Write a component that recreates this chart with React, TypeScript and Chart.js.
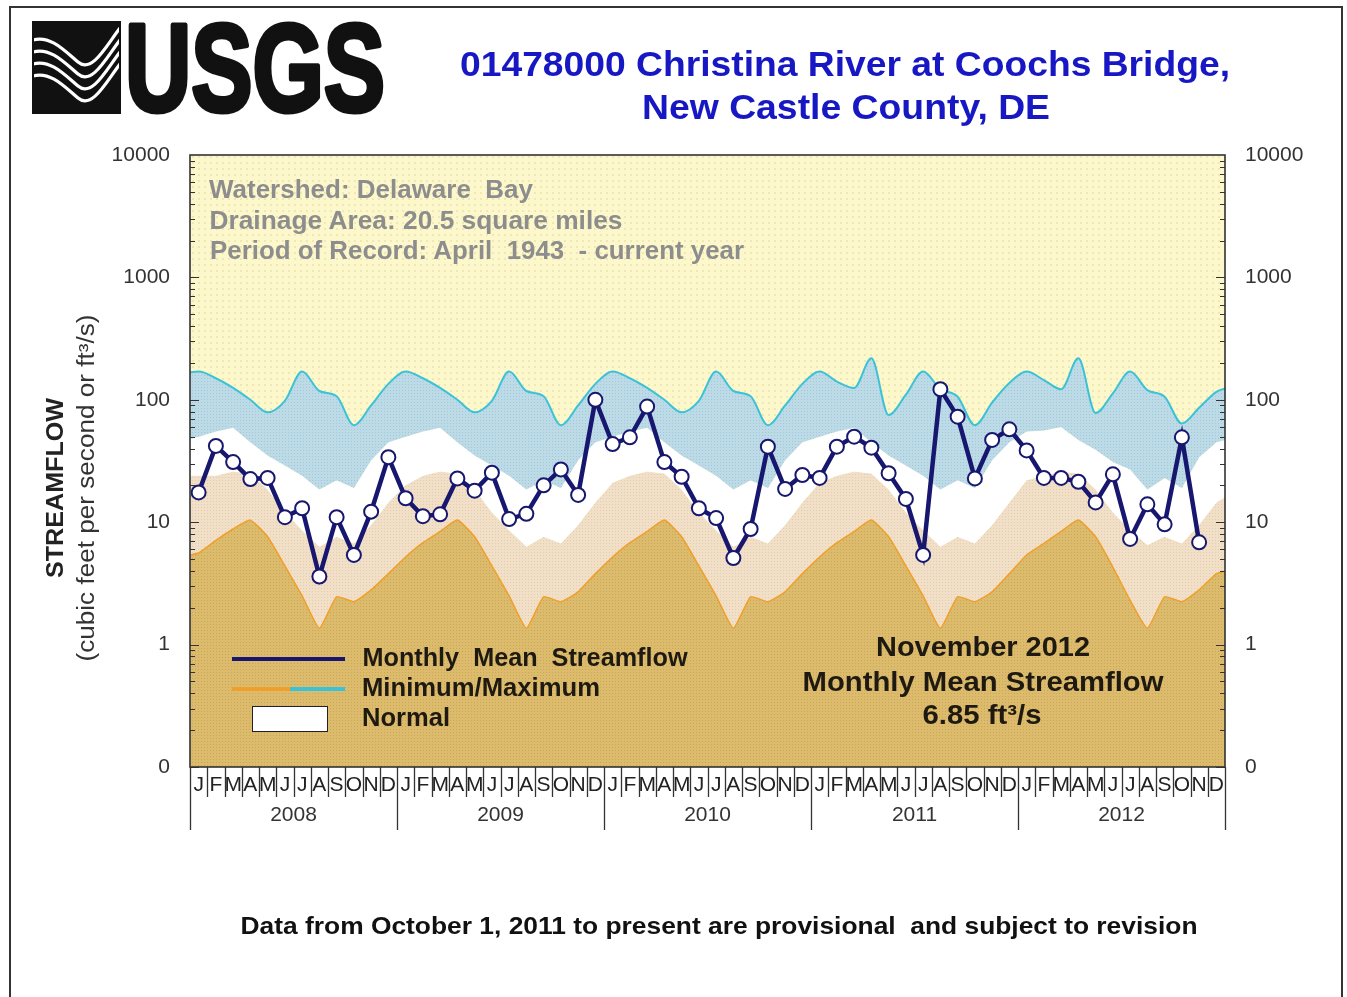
import React, { useEffect, useRef } from 'react';
import { Chart, registerables } from 'chart.js';

Chart.register(...registerables);

// ---------------- data ----------------
const monthLetters = ['J', 'F', 'M', 'A', 'M', 'J', 'J', 'A', 'S', 'O', 'N', 'D'];
const yearLabels = ['2008', '2009', '2010', '2011', '2012'];
const yTickValues = [0.1, 1, 10, 100, 1000, 10000];
const yTickLabels = ['0', '1', '10', '100', '1000', '10000'];

// Monthly mean streamflow, Jan 2008 .. Nov 2012 (ft3/s)
const meanFlow = [
  17.5, 42, 31, 22.5, 23, 11, 13, 3.6, 11, 5.4, 12.2, 34,
  15.7, 11.2, 11.6, 22.8, 18.1, 25.4, 10.6, 11.7, 20, 27, 16.7, 100,
  43.5, 49.4, 88, 31, 23.5, 13, 10.8, 5.1, 8.8, 41.4, 18.7, 24.3,
  23, 41.4, 50, 40.6, 25.1, 15.5, 5.4, 122, 72.8, 22.8, 47, 57.4,
  38.6, 23, 23, 21.4, 14.5, 24.6, 7.3, 14, 9.6, 49.4, 6.85,
];

// Maximum of record (month centres), with values at the left / right plot edges
const maxFlow = [
  170, 150, 125, 100, 79, 98, 170, 118, 107, 62, 90, 135,
  170, 150, 125, 100, 79, 98, 170, 118, 107, 62, 90, 135,
  170, 150, 125, 100, 79, 98, 170, 118, 107, 62, 90, 135,
  170, 141, 125, 218, 75, 110, 170, 122, 106, 62, 95, 137,
  170, 145, 122, 218, 78, 113, 170, 120, 106, 64, 86, 116,
];
const maxEdges = [168, 124];

// Upper bound of the normal range
const normalHigh = [
  50, 55, 59, 45, 35, 29, 24, 18.5, 22, 19, 32, 45,
  50, 55, 59, 45, 35, 29, 24, 18.5, 22, 19, 32, 45,
  50, 55, 59, 45, 35, 29, 24, 18.5, 22, 19, 32, 45,
  50, 55, 59, 45, 35, 29, 24, 18.5, 22, 19, 32, 45,
  55, 56, 60, 47, 39, 31, 27, 18.5, 23, 19, 34, 45,
];
const normalHighEdges = [48, 47];

// Lower bound of the normal range
const normalLow = [
  24, 24, 26, 25, 18.5, 12, 8.6, 6.3, 7.6, 6.7, 9.5, 14.5,
  20, 24, 26, 25, 18.5, 12, 8.6, 6.3, 7.6, 6.7, 9.5, 14.5,
  21, 24, 26, 25, 18.5, 12, 8.6, 6.3, 7.6, 6.7, 9.5, 14.5,
  21, 24, 26, 25, 18.5, 12, 8.6, 6.3, 7.6, 6.7, 9.5, 14.5,
  22, 24, 26, 25, 18.5, 12, 8.6, 6.5, 7.6, 6.7, 9.5, 14.5,
];
const normalLowEdges = [24, 16];

// Minimum of record
const minFlow = [
  5.6, 7.1, 8.8, 10.4, 7.6, 4.4, 2.5, 1.36, 2.46, 2.24, 2.8, 3.8,
  5.2, 6.8, 8.4, 10.4, 7.6, 4.4, 2.5, 1.36, 2.46, 2.24, 2.7, 3.8,
  5.2, 6.8, 8.4, 10.4, 7.6, 4.4, 2.5, 1.36, 2.46, 2.24, 2.7, 3.8,
  5.2, 6.8, 8.4, 10.4, 7.6, 4.4, 2.5, 1.36, 2.46, 2.24, 2.7, 3.8,
  5.4, 6.7, 8.4, 10.4, 7.6, 4.3, 2.3, 1.36, 2.46, 2.24, 2.8, 3.8,
];
const minEdges = [5.4, 4.0];

// ---------------- styling constants ----------------
const W = 1347;
const H = 997;
const NAVY = '#17176f';
const CYAN = '#3cc2d6';
const ORANGE = '#f0a02a';
const FAMILY = '"Liberation Sans", Arial, Helvetica, sans-serif';

let measureCtx: CanvasRenderingContext2D | null = null;
function textWidth(font: string, text: string): number {
  if (!measureCtx) measureCtx = document.createElement('canvas').getContext('2d');
  measureCtx!.font = font;
  return measureCtx!.measureText(text).width;
}

function FitText(props: {
  text: string; cx: number; cy: number; size: number; width: number;
  color: string; bold?: boolean; rotate?: boolean;
}) {
  const { text, cx, cy, size, width, color, bold = true, rotate = false } = props;
  const font = `${bold ? 'bold ' : ''}${size}px ${FAMILY}`;
  const k = width / textWidth(font, text);
  return (
    <div
      style={{
        position: 'absolute', left: cx, top: cy, font, lineHeight: `${size}px`,
        color, whiteSpace: 'pre',
        transform: `translate(-50%,-50%)${rotate ? ' rotate(-90deg)' : ''} scaleX(${k})`,
      }}
    >
      {text}
    </div>
  );
}

function makePattern(base: string, dot: string, size: number, dotSize: number) {
  const c = document.createElement('canvas');
  c.width = size; c.height = size;
  const g = c.getContext('2d')!;
  g.fillStyle = base; g.fillRect(0, 0, size, size);
  g.fillStyle = dot; g.fillRect(0, 0, dotSize, dotSize);
  return g.createPattern(c, 'repeat')!;
}

const toPts = (vals: number[], edges: number[]) => [
  { x: 0, y: edges[0] },
  ...vals.map((v, i) => ({ x: i + 0.5, y: v })),
  { x: 60, y: edges[1] },
];

function StreamChart() {
  const ref = useRef<HTMLCanvasElement>(null);
  useEffect(() => {
    const canvas = ref.current!;
    const bgPat = makePattern('#fcf8cc', '#efe8b6', 6, 2);
    const bluePat = makePattern('#bcdbe7', '#a3c7d7', 3, 1);
    const tanPat = makePattern('#f1dfc8', '#e3cdb1', 3, 1);
    const goldPat = makePattern('#dcbb6c', '#c9a756', 3, 1);

    const framePlugin = {
      id: 'usgsFrame',
      beforeDraw(chart: any) {
        const { ctx, chartArea: a } = chart;
        ctx.save();
        ctx.fillStyle = bgPat;
        ctx.fillRect(a.left, a.top, a.right - a.left, a.bottom - a.top);
        ctx.restore();
      },
      afterDraw(chart: any) {
        const { ctx, chartArea: { left, right, top, bottom } } = chart;
        const xs = chart.scales.x;
        const ys = chart.scales.y;
        ctx.save();
        ctx.strokeStyle = '#333';
        ctx.lineWidth = 1.2;
        ctx.beginPath();
        for (let e = -1; e <= 3; e++) {
          for (let k = 1; k <= 9; k++) {
            const v = k * Math.pow(10, e);
            const y = Math.round(ys.getPixelForValue(v)) + 0.5;
            const len = k === 1 ? 9 : 5;
            ctx.moveTo(left, y); ctx.lineTo(left + len, y);
            ctx.moveTo(right, y); ctx.lineTo(right - len, y);
          }
        }
        ctx.stroke();
        ctx.lineWidth = 1.6;
        ctx.strokeRect(left, top, right - left, bottom - top);
        ctx.lineWidth = 1.3;
        ctx.beginPath();
        for (let m = 0; m <= 60; m++) {
          const x = Math.round(xs.getPixelForValue(m)) + 0.5;
          ctx.moveTo(x, bottom);
          ctx.lineTo(x, bottom + (m % 12 === 0 ? 63 : 30));
        }
        ctx.stroke();
        ctx.fillStyle = '#222';
        ctx.font = `21px ${FAMILY}`;
        ctx.textAlign = 'center';
        ctx.textBaseline = 'middle';
        for (let m = 0; m < 60; m++) {
          ctx.fillText(monthLetters[m % 12], xs.getPixelForValue(m + 0.5), bottom + 18);
        }
        ctx.fillStyle = '#333';
        for (let i = 0; i < yearLabels.length; i++) {
          ctx.fillText(yearLabels[i], xs.getPixelForValue(i * 12 + 6), bottom + 48);
        }
        ctx.restore();
      },
    };

    const yAxis = (position: string, width: number) => ({
      type: 'logarithmic', position, min: 0.1, max: 10000,
      afterBuildTicks: (s: any) => { s.ticks = yTickValues.map((v) => ({ value: v })); },
      afterFit: (s: any) => { s.width = width; },
      grid: { display: false, drawTicks: false },
      border: { display: false },
      ticks: {
        callback: (_v: any, i: number) => yTickLabels[i],
        font: { family: FAMILY, size: 21 }, color: '#333', padding: 20,
        autoSkip: false, maxRotation: 0,
      },
    });

    const chart = new Chart(canvas, {
      type: 'line',
      data: {
        datasets: [
          {
            label: 'Monthly Mean Streamflow',
            data: meanFlow.map((v, i) => ({ x: i + 0.5, y: v })),
            borderColor: NAVY, borderWidth: 4.5, tension: 0, fill: false,
            pointRadius: 7, pointBackgroundColor: '#ffffff',
            pointBorderColor: NAVY, pointBorderWidth: 2,
          },
          {
            label: 'Maximum',
            data: toPts(maxFlow, maxEdges),
            borderColor: CYAN, borderWidth: 2, pointRadius: 0,
            cubicInterpolationMode: 'monotone',
            fill: '+1', backgroundColor: bluePat,
          },
          {
            label: 'Normal high',
            data: toPts(normalHigh, normalHighEdges),
            borderWidth: 0, borderColor: 'rgba(0,0,0,0)', pointRadius: 0, tension: 0,
            fill: '+1', backgroundColor: '#ffffff',
          },
          {
            label: 'Normal low',
            data: toPts(normalLow, normalLowEdges),
            borderWidth: 0, borderColor: 'rgba(0,0,0,0)', pointRadius: 0, tension: 0,
            fill: '+1', backgroundColor: tanPat,
          },
          {
            label: 'Minimum',
            data: toPts(minFlow, minEdges),
            borderColor: ORANGE, borderWidth: 1.5, pointRadius: 0, tension: 0.15,
            fill: 'start', backgroundColor: goldPat,
          },
        ],
      } as any,
      options: {
        responsive: false,
        maintainAspectRatio: false,
        animation: false,
        layout: { padding: { top: 155, bottom: 230, left: 0, right: 0 } },
        plugins: {
          legend: { display: false },
          tooltip: { enabled: false },
          filler: { drawTime: 'beforeDatasetsDraw' },
        } as any,
        scales: {
          x: { type: 'linear', min: 0, max: 60, display: false },
          y: yAxis('left', 190),
          y2: yAxis('right', 122),
        } as any,
      },
      plugins: [framePlugin],
    });
    return () => chart.destroy();
  }, []);
  return (
    <canvas
      ref={ref}
      width={W}
      height={H}
      style={{ position: 'absolute', left: 0, top: 0, width: W, height: H }}
    />
  );
}

function Logo() {
  const waves = [0, 12, 24, 36];
  return (
    <svg width={400} height={130} style={{ position: 'absolute', left: 0, top: 0 }}>
      <rect x={33} y={22} width={87} height={91} fill="#111" />
      {waves.map((d) => (
        <path
          key={d}
          d={`M33,${40 + d} C50,${35 + d} 64,${50 + d} 78,${62 + d} C92,${74 + d} 106,${46 + d} 120,${28 + d}`}
          stroke="#fff" strokeWidth={3.2} fill="none"
        />
      ))}
      <rect x={33} y={22} width={87} height={91} fill="none" stroke="#111" strokeWidth={2} />
      <text
        x={125} y={111} fontFamily={'"Liberation Sans Narrow", "Liberation Sans", Arial, sans-serif'}
        fontWeight="bold" fontSize={124} textLength={260} lengthAdjust="spacingAndGlyphs"
        fill="#111" stroke="#111" strokeWidth={5} strokeLinejoin="round"
      >
        USGS
      </text>
    </svg>
  );
}

export default function App() {
  return (
    <div style={{ position: 'relative', width: W, height: H, overflow: 'hidden', background: '#fff' }}>
      <style>{'body{margin:0;overflow:hidden;}'}</style>
      <div
        style={{
          position: 'absolute', left: 9, top: 6, width: 1334, height: 1100,
          border: '2px solid #333', boxSizing: 'border-box',
        }}
      />
      <StreamChart />
      <Logo />
      <FitText text="01478000 Christina River at Coochs Bridge," cx={845} cy={63} size={35} width={770} color="#1717c4" />
      <FitText text="New Castle County, DE" cx={846} cy={106} size={35} width={408} color="#1717c4" />

      <FitText text="Watershed: Delaware  Bay" cx={371} cy={188.5} size={25} width={324} color="#8d8d8d" />
      <FitText text="Drainage Area: 20.5 square miles" cx={416} cy={219.5} size={25} width={414} color="#8d8d8d" />
      <FitText text="Period of Record: April  1943  - current year" cx={476.5} cy={249.5} size={25} width={535} color="#8d8d8d" />

      <div style={{ position: 'absolute', left: 232, top: 657, width: 113, height: 4, background: NAVY }} />
      <div style={{ position: 'absolute', left: 232, top: 687, width: 58, height: 4, background: ORANGE }} />
      <div style={{ position: 'absolute', left: 290, top: 687, width: 55, height: 4, background: CYAN }} />
      <div
        style={{
          position: 'absolute', left: 252, top: 706, width: 76, height: 26,
          background: '#fff', border: '1.5px solid #222', boxSizing: 'border-box',
        }}
      />
      <FitText text="Monthly  Mean  Streamflow" cx={524.5} cy={657} size={25} width={325} color="#1e1a12" />
      <FitText text="Minimum/Maximum" cx={481} cy={687} size={25} width={238} color="#1e1a12" />
      <FitText text="Normal" cx={406} cy={717} size={25} width={88} color="#1e1a12" />

      <FitText text="November 2012" cx={983} cy={647} size={27} width={214} color="#1e1a12" />
      <FitText text="Monthly Mean Streamflow" cx={982.5} cy={682} size={27} width={361} color="#1e1a12" />
      <FitText text="6.85 ft³/s" cx={981.5} cy={715} size={27} width={119} color="#1e1a12" />

      <FitText text="STREAMFLOW" cx={55} cy={488} size={24} width={180} color="#222" rotate />
      <FitText text="(cubic feet per second or ft³/s)" cx={86} cy={488} size={23} width={347} color="#333" bold={false} rotate />

      <FitText
        text="Data from October 1, 2011 to present are provisional  and subject to revision"
        cx={718.5} cy={926} size={24} width={957} color="#111"
      />
    </div>
  );
}
